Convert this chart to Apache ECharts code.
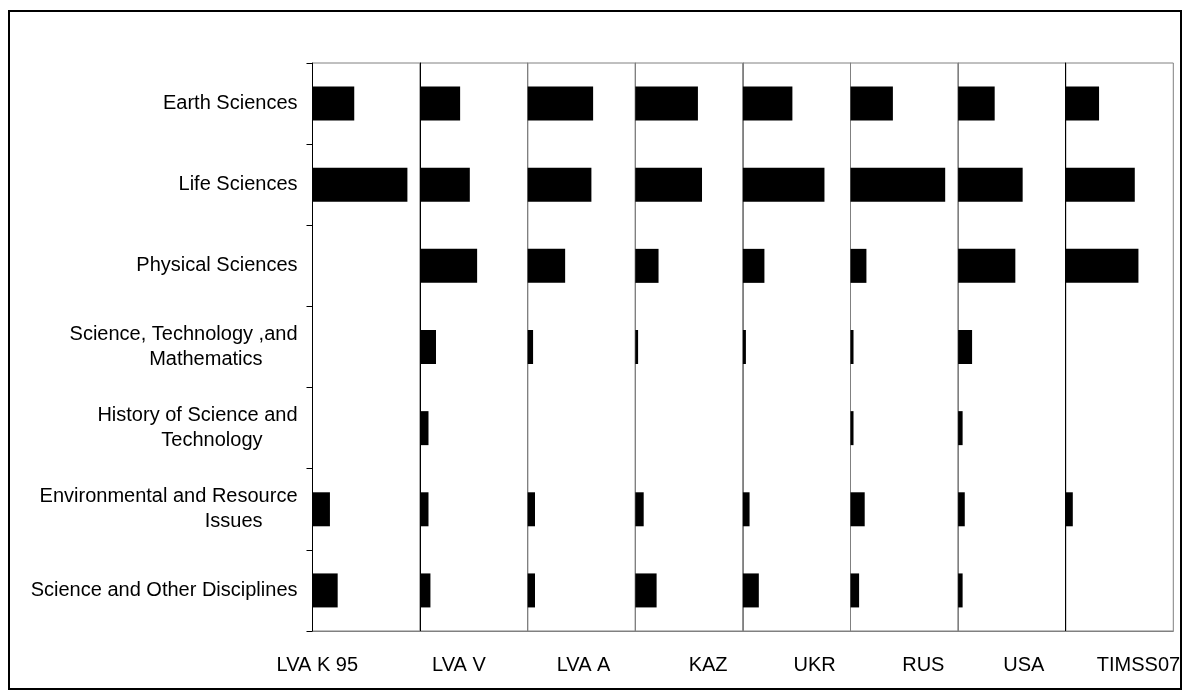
<!DOCTYPE html>
<html>
<head>
<meta charset="utf-8">
<script src="https://cdn.jsdelivr.net/npm/echarts@6/dist/echarts.min.js"></script>
<style>
  html, body { margin: 0; padding: 0; background: #fff; }
  #main { width: 1190px; height: 698px; }
</style>
</head>
<body>
<div id="main"></div>
<script>
// topics, top to bottom
var topics = ['Earth Sciences', 'Life Sciences', 'Physical Sciences',
    'Science, Technology ,and Mathematics', 'History of Science and Technology',
    'Environmental and Resource Issues', 'Science and Other Disciplines'];

var countries = ['LVA K 95', 'LVA V', 'LVA A', 'KAZ', 'UKR', 'RUS', 'USA', 'TIMSS07'];

// share of items per topic (%), null = no bar
var lvaK95  = [19.4, 44.1, null, null, null, 8.1, 11.7];
var lvaV    = [18.6, 23.1, 26.5, 7.4, 3.9, 3.9, 4.8];
var lvaA    = [30.4, 29.6, 17.4, 2.5, null, 3.4, 3.4];
var kaz     = [29.1, 31.0, 10.8, 1.3, null, 3.9, 9.9];
var ukr     = [23.0, 37.9, 10.0, 1.4, null, 3.1, 7.4];
var rus     = [19.7, 44.0, 7.4, 1.4, 1.4, 6.6, 4.0];
var usa     = [17.0, 30.0, 26.6, 6.5, 2.1, 3.1, 2.1];
var timss07 = [15.5, 32.1, 33.8, null, null, 3.3, null];

var allData = [lvaK95, lvaV, lvaA, kaz, ukr, rus, usa, timss07];

var labelShift = [-49, -15, 2, 19, 18, 19, 12, 19];
var sepColor = ['#000', '#000', '#808080', '#808080', '#808080', '#808080', '#808080', '#000'];

var left0 = 312.5, panelW = 107.6, top0 = 63, plotH = 568;
var fs = 20;

var grids = [], xAxes = [], yAxes = [], series = [];
for (var i = 0; i < countries.length; i++) {
    grids.push({
        left: left0 + i * panelW, top: top0, width: panelW, height: plotH,
        show: true, borderColor: '#808080', borderWidth: 1
    });
    var sh = labelShift[i];
    xAxes.push({
        gridIndex: i, type: 'value', min: 0, max: 50,
        axisLine: { show: true, lineStyle: { color: '#808080', width: 1 } },
        axisTick: { show: false }, axisLabel: { show: false }, splitLine: { show: false },
        name: countries[i], nameLocation: 'middle', nameGap: 24,
        nameTextStyle: {
            fontFamily: 'Liberation Sans', fontSize: fs, color: '#000',
            padding: sh < 0 ? [0, -2 * sh, 0, 0] : [0, 0, 0, 2 * sh]
        }
    });
    yAxes.push({
        gridIndex: i, type: 'category', data: topics, inverse: true,
        axisLine: { show: true, lineStyle: { color: sepColor[i], width: 1 } },
        axisTick: { show: i == 0, length: 6, lineStyle: { color: '#000' } },
        axisLabel: {
            show: i == 0, margin: 15, fontFamily: 'Liberation Sans', fontSize: fs,
            color: '#000', lineHeight: 25,
            formatter: function (v) {
                if (v == 'Science, Technology ,and Mathematics') return 'Science, Technology ,and\n{b|Mathematics}';
                if (v == 'History of Science and Technology') return 'History of Science and\n{b|Technology}';
                if (v == 'Environmental and Resource Issues') return 'Environmental and Resource\n{b|Issues}';
                return v;
            },
            rich: {
                b: { fontFamily: 'Liberation Sans', fontSize: fs, color: '#000', padding: [0, 35, 0, 0] }
            }
        },
        splitLine: { show: false }
    });
    series.push({
        type: 'bar', xAxisIndex: i, yAxisIndex: i, data: allData[i],
        barWidth: 34, itemStyle: { color: '#000' }, silent: true
    });
}

var myChart = echarts.init(document.getElementById('main'));
myChart.setOption({
    animation: false,
    backgroundColor: '#fff',
    grid: grids, xAxis: xAxes, yAxis: yAxes, series: series,
    graphic: [{
        type: 'rect', shape: { x: 9, y: 11, width: 1172, height: 678 },
        style: { fill: null, stroke: '#000', lineWidth: 2 }, silent: true
    }]
});
</script>
</body>
</html>
